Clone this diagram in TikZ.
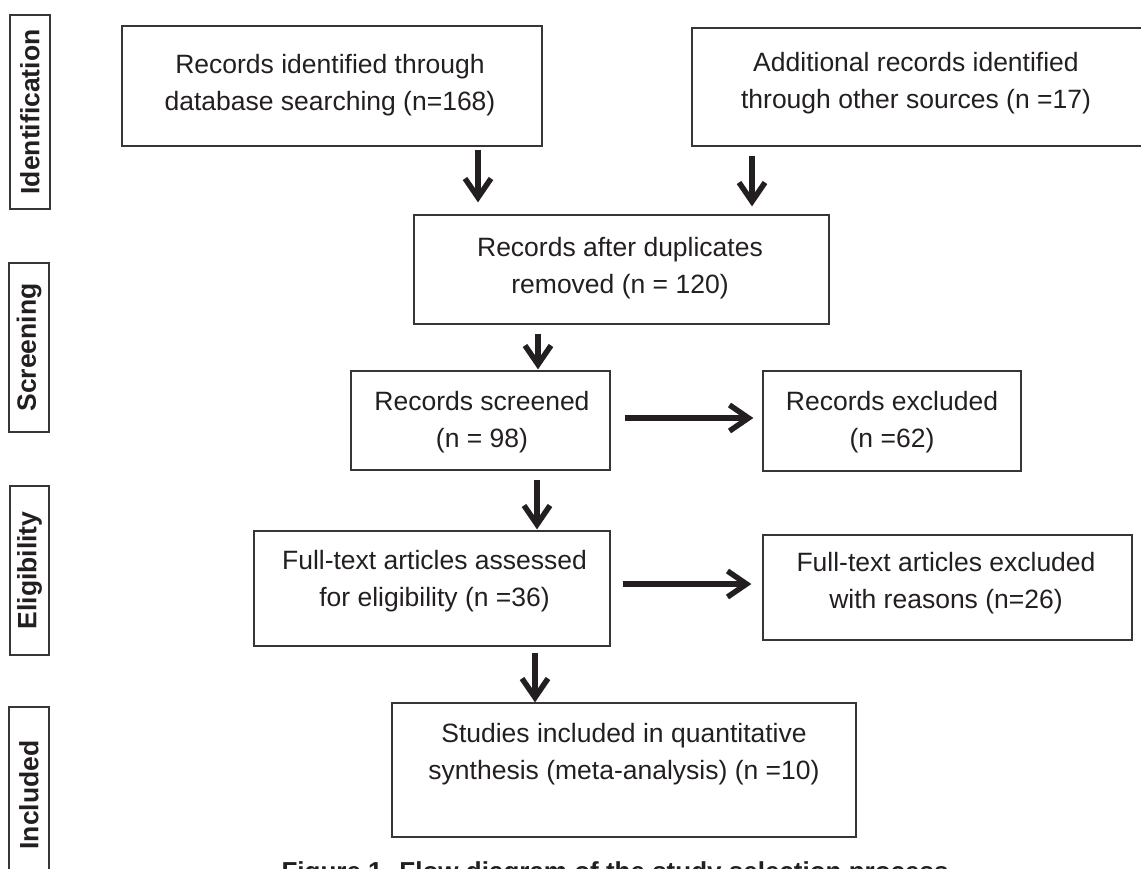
\documentclass[tikz,border=0pt]{standalone}
\usepackage{fontspec}
\setmainfont{Liberation Sans}
\usetikzlibrary{arrows.meta,calc}
\definecolor{ink}{RGB}{35,31,32}
\begin{document}
\begin{tikzpicture}[x=1pt,y=-1pt,
  box/.style={draw=ink!90, line width=1.3pt, inner sep=0pt},
  txt/.style={align=center, text=ink, inner sep=0pt, font=\fontsize{26.5}{37}\selectfont},
  side/.style={draw=ink!90, line width=1.3pt, inner sep=0pt, rotate=90, text=ink,
    font=\bfseries\fontsize{26.5}{30}\selectfont},
  arr/.style={draw=ink, line width=5.5pt, -{Straight Barb[length=19pt,width=26pt]}}]
\useasboundingbox (0,0) rectangle (1141,868);

% stage labels
\node[side, minimum width=194pt, minimum height=40pt] (sI) at (30,112) {Identification};
\node[side, minimum width=169pt, minimum height=40pt] (sS) at (29,347.5) {Screening};
\node[side, minimum width=169pt, minimum height=39pt] (sE) at (29.5,570.5) {Eligibility};
\node[side, minimum width=176pt, minimum height=40pt] (sN) at (29,795) {Included};

% boxes
\node[box, minimum width=420pt, minimum height=120pt] (A) at (332,86) {};
\node[box, minimum width=450pt, minimum height=118pt] (B) at (917,87) {};
\node[box, minimum width=415pt, minimum height=109pt] (C) at (621.5,269.5) {};
\node[box, minimum width=259pt, minimum height=99pt] (D) at (480.5,420.5) {};
\node[box, minimum width=258pt, minimum height=100pt] (E) at (892,421) {};
\node[box, minimum width=356pt, minimum height=115pt] (F) at (432,588.5) {};
\node[box, minimum width=369pt, minimum height=105pt] (G) at (947.5,587.5) {};
\node[box, minimum width=464pt, minimum height=134pt] (H) at (624,770) {};

% box texts
\node[txt] (At) at (330,85.6) {Records identified through\\database searching (n=168)};
\node[txt] (Bt) at (916,83.6) {Additional records identified\\through other sources (n =17)};
\node[txt] (Ct) at (620,268.6) {Records after duplicates\\removed (n = 120)};
\node[txt] (Dt) at (482,422.6) {Records screened\\(n = 98)};
\node[txt] (Et) at (892,422.3) {Records excluded\\(n =62)};
\node[txt] (Ft) at (434.5,581.6) {Full-text articles assessed\\for eligibility (n =36)};
\node[txt] (Gt) at (946,583.6) {Full-text articles excluded\\with reasons (n=26)};
\node[txt] (Ht) at (624,754.6) {Studies included in quantitative\\synthesis (meta-analysis) (n =10)};

% connectors
\draw[arr] ($(A.south)+(146,3)$) -- ($(A.south |- C.north)+(146,-12)$);
\draw[arr] ($(B.south)+(-165,9)$) -- ($(B.south |- C.north)+(-165,-8)$);
\draw[arr] ($(C.south)+(-83.5,9)$) -- ($(C.south |- D.north)+(-83.5,-1)$);
\draw[arr] ($(D.south)+(56.5,9)$) -- ($(D.south |- F.north)+(56.5,-1)$);
\draw[arr] ($(F.south)+(103,6)$) -- ($(F.south |- H.north)+(103,0)$);
\draw[arr] ($(D.east)+(14,-2.5)$) -- ($(D.east -| E.west)+(-9,-2.5)$);
\draw[arr] ($(F.east)+(12,-4.5)$) -- ($(F.east -| G.west)+(-11,-4.5)$);

% caption (cut by the lower edge)
\node[anchor=base, inner sep=0pt, text=ink, font=\bfseries\fontsize{26}{30}\selectfont] (cap) at (615,880)
  {Figure 1. Flow diagram of the study selection process};
\end{tikzpicture}
\end{document}
